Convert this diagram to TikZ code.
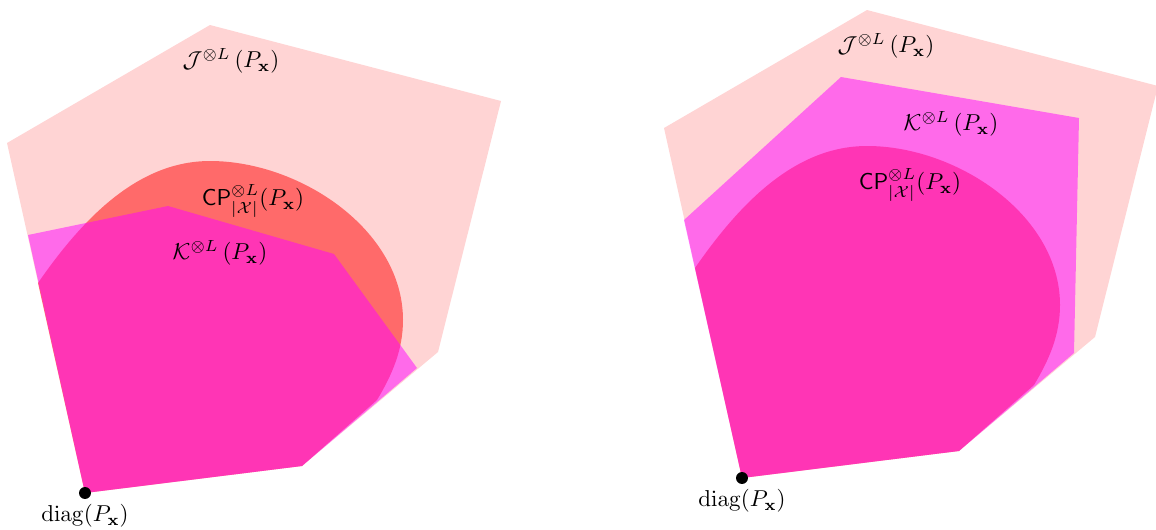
\documentclass[tikz,border=0pt]{standalone}
\usepackage{amsmath}
\definecolor{pred}{RGB}{255,0,0}
\definecolor{pmag}{RGB}{255,0,255}
\begin{document}
\begin{tikzpicture}[x=0.4348pt,y=-0.4348pt,
  jset/.style={fill=pred,fill opacity=0.17},
  cpset/.style={fill=pred,fill opacity=0.5},
  kset/.style={fill=pmag,fill opacity=0.5},
  dot/.style={circle,fill=black,inner sep=0pt,minimum size=5.2pt},
  lbl/.style={inner sep=0pt}]
\useasboundingbox (0,0) rectangle (1156,529);
% ---------- left panel ----------
\fill[jset] (85,493) -- (7,143) -- (210,25) -- (501,101) -- (438,352) -- (302,466) -- cycle;
\fill[cpset] (85,493) -- (38,283) .. controls (85,215) and (140,161) .. (210,161)
  .. controls (300,161) and (403,230) .. (403,320)
  .. controls (403,350) and (392,375) .. (377,400) -- (302,466) -- cycle;
\fill[kset] (85,493) -- (28,235) -- (168,206) -- (334,254) -- (417,368) -- (302,466) -- cycle;
\node[dot] (d1) at (85,493) {};
\node[lbl,below=2pt] (dl1) at (d1.south) {$\mathrm{diag}(P_{\mathbf{x}})$};
\node[lbl] (j1) at (231,61) {$\mathcal{J}^{\otimes L}\left(P_{\mathbf{x}}\right)$};
\node[lbl] (c1) at (253,201) {$\mathsf{CP}^{\otimes L}_{|\mathcal{X}|}(P_{\mathbf{x}})$};
\node[lbl] (k1) at (220,253) {$\mathcal{K}^{\otimes L}\left(P_{\mathbf{x}}\right)$};
% ---------- right panel ----------
\begin{scope}[shift={(657,-15)}]
\fill[jset] (85,493) -- (7,143) -- (210,25) -- (501,101) -- (438,352) -- (302,466) -- cycle;
\fill[cpset] (85,493) -- (38,283) .. controls (85,215) and (140,161) .. (210,161)
  .. controls (300,161) and (403,230) .. (403,320)
  .. controls (403,350) and (392,375) .. (377,400) -- (302,466) -- cycle;
\fill[kset] (85,493) -- (27,235) -- (184,92) -- (422,133) -- (417,368) -- (302,466) -- cycle;
\node[dot] (d2) at (85,493) {};
\end{scope}
\node[lbl,below=2pt] (dl2) at (d2.south) {$\mathrm{diag}(P_{\mathbf{x}})$};
\node[lbl] (j2) at (886,46) {$\mathcal{J}^{\otimes L}\left(P_{\mathbf{x}}\right)$};
\node[lbl] (k2) at (951,124) {$\mathcal{K}^{\otimes L}\left(P_{\mathbf{x}}\right)$};
\node[lbl] (c2) at (910,185) {$\mathsf{CP}^{\otimes L}_{|\mathcal{X}|}(P_{\mathbf{x}})$};
\end{tikzpicture}
\end{document}
